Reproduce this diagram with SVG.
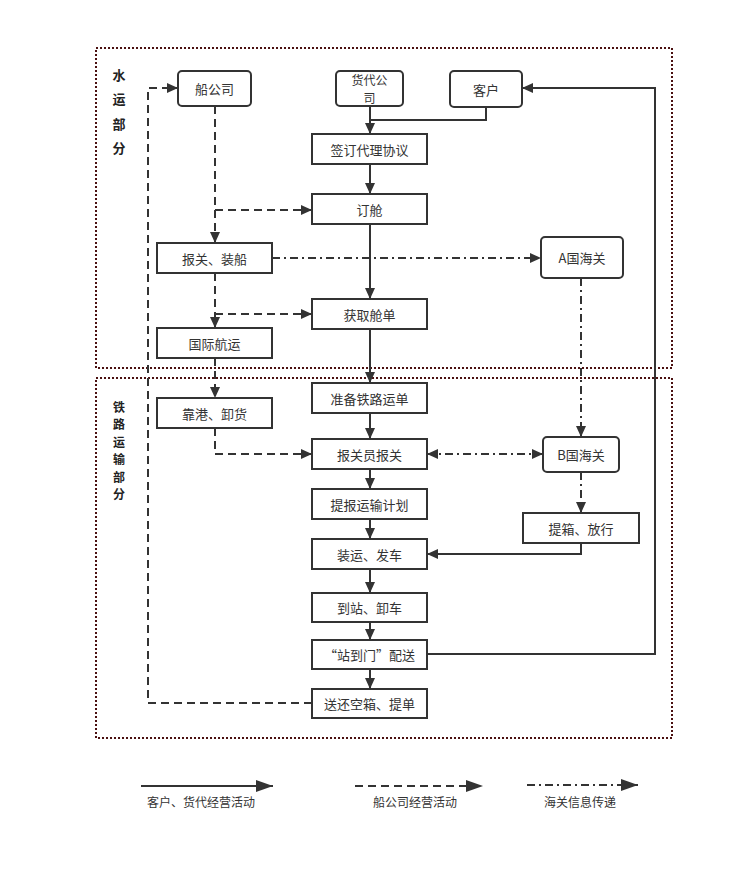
<svg xmlns="http://www.w3.org/2000/svg" width="734" height="883" viewBox="0 0 734 883">
<style>
.box{fill:#fff;stroke:#333;stroke-width:2}
.t{font-family:"Noto Sans CJK SC","Liberation Sans",sans-serif;font-size:13px;fill:#333;text-anchor:middle;dominant-baseline:central}
.t2{font-family:"Noto Sans CJK SC","Liberation Sans",sans-serif;font-size:12px;fill:#333;text-anchor:middle;dominant-baseline:central}
.lbl{font-family:"Noto Sans CJK SC","Liberation Sans",sans-serif;font-size:13px;font-weight:bold;fill:#222;text-anchor:middle;dominant-baseline:central}
.lbl2{font-family:"Noto Sans CJK SC","Liberation Sans",sans-serif;font-size:12px;font-weight:bold;fill:#222;text-anchor:middle;dominant-baseline:central}
.lg{font-family:"Noto Sans CJK SC","Liberation Sans",sans-serif;font-size:12px;fill:#333;text-anchor:middle;dominant-baseline:central}
.zone{fill:none;stroke:#4a1010;stroke-width:2;stroke-dasharray:2 2}
.s{fill:none;stroke:#333;stroke-width:2}
.d{fill:none;stroke:#333;stroke-width:2;stroke-dasharray:8 5}
.dd{fill:none;stroke:#333;stroke-width:2;stroke-dasharray:8 4 2 4}
</style>
<defs>
<marker id="a" markerUnits="userSpaceOnUse" markerWidth="12" markerHeight="12" refX="11" refY="5" orient="auto">
<path d="M0,0 L11,5 L0,10 z" fill="#333"/>
</marker>
<marker id="as" markerUnits="userSpaceOnUse" markerWidth="12" markerHeight="12" refX="0" refY="5" orient="auto">
<path d="M11,0 L0,5 L11,10 z" fill="#333"/>
</marker>
<marker id="al" markerUnits="userSpaceOnUse" markerWidth="20" markerHeight="14" refX="17" refY="6" orient="auto">
<path d="M0,0 L17,6 L0,12 z" fill="#333"/>
</marker>
</defs>

<g id="zones">
<rect class="zone" x="96" y="48" width="576" height="320"/>
<rect class="zone" x="96" y="378" width="576" height="360"/>
<text class="lbl" x="119" y="74">水</text>
<text class="lbl" x="119" y="98">运</text>
<text class="lbl" x="119" y="123">部</text>
<text class="lbl" x="119" y="147">分</text>
<text class="lbl2" x="119" y="406">铁</text>
<text class="lbl2" x="119" y="423.5">路</text>
<text class="lbl2" x="119" y="441">运</text>
<text class="lbl2" x="119" y="458.5">输</text>
<text class="lbl2" x="119" y="476">部</text>
<text class="lbl2" x="119" y="493.5">分</text>
</g>

<g id="connectors">
<!-- solid -->
<path class="s" d="M370,106 V134" marker-end="url(#a)"/>
<path class="s" d="M486,107 V120 H370"/>
<path class="s" d="M370,164 V194" marker-end="url(#a)"/>
<path class="s" d="M370,224 V299" marker-end="url(#a)"/>
<path class="s" d="M370,329 V383" marker-end="url(#a)"/>
<path class="s" d="M370,413 V439" marker-end="url(#a)"/>
<path class="s" d="M370,469 V489" marker-end="url(#a)"/>
<path class="s" d="M370,519 V539" marker-end="url(#a)"/>
<path class="s" d="M370,569 V593" marker-end="url(#a)"/>
<path class="s" d="M370,622 V640" marker-end="url(#a)"/>
<path class="s" d="M370,669 V689" marker-end="url(#a)"/>
<path class="s" d="M427,654 H655 V88 H522" marker-end="url(#a)"/>
<path class="s" d="M581,543 V554 H427" marker-end="url(#a)"/>
<!-- dashed -->
<path class="d" d="M215,106 V243" marker-end="url(#a)"/>
<path class="d" d="M215,210 H312" marker-end="url(#a)"/>
<path class="d" d="M215,273 V328" marker-end="url(#a)"/>
<path class="d" d="M215,314 H312" marker-end="url(#a)"/>
<path class="d" d="M215,358 V398" marker-end="url(#a)"/>
<path class="d" d="M215,428 V454 H312" marker-end="url(#a)"/>
<path class="d" d="M312,703 H148 V88 H178" marker-end="url(#a)"/>
<!-- dash-dot -->
<path class="dd" d="M272,258 H541" marker-end="url(#a)"/>
<path class="dd" d="M581,278 V437" marker-end="url(#a)"/>
<path class="dd" d="M427,454 H543" marker-start="url(#as)" marker-end="url(#a)"/>
<path class="dd" d="M581,472 V513" marker-end="url(#a)"/>
</g>

<g id="n-chuan"><rect class="box" x="178" y="71" width="73" height="35" rx="4"/><text class="t" x="214.5" y="88.5">船公司</text></g>
<g id="n-huodai"><rect class="box" x="336" y="71" width="67" height="35" rx="4"/><text class="t2" x="369.5" y="79.5">货代公</text><text class="t2" x="369.5" y="97">司</text></g>
<g id="n-kehu"><rect class="box" x="450" y="71" width="72" height="36" rx="4"/><text class="t" x="486" y="89">客户</text></g>
<g id="n-qianding"><rect class="box" x="312" y="134" width="115" height="30"/><text class="t" x="369.5" y="149">签订代理协议</text></g>
<g id="n-dingcang"><rect class="box" x="312" y="194" width="115" height="30"/><text class="t" x="369.5" y="209">订舱</text></g>
<g id="n-baoguan-zc"><rect class="box" x="157" y="243" width="115" height="30"/><text class="t" x="214.5" y="258">报关、装船</text></g>
<g id="n-huoqu"><rect class="box" x="312" y="299" width="115" height="30"/><text class="t" x="369.5" y="314">获取舱单</text></g>
<g id="n-guoji"><rect class="box" x="157" y="328" width="115" height="30"/><text class="t" x="214.5" y="343">国际航运</text></g>
<g id="n-kaogang"><rect class="box" x="157" y="398" width="115" height="30"/><text class="t" x="214.5" y="413">靠港、卸货</text></g>
<g id="n-zhunbei"><rect class="box" x="312" y="383" width="115" height="30"/><text class="t" x="369.5" y="398">准备铁路运单</text></g>
<g id="n-ahaiguan"><rect class="box" x="541" y="237" width="82" height="41" rx="4"/><text class="t" x="582" y="257.5">A国海关</text></g>
<g id="n-bhaiguan"><rect class="box" x="543" y="437" width="76" height="35" rx="4"/><text class="t" x="581" y="454.5">B国海关</text></g>
<g id="n-tixiang"><rect class="box" x="523" y="513" width="116" height="30"/><text class="t" x="581" y="528">提箱、放行</text></g>
<g id="n-baoguanyuan"><rect class="box" x="312" y="439" width="115" height="30"/><text class="t" x="369.5" y="454">报关员报关</text></g>
<g id="n-tibao"><rect class="box" x="312" y="489" width="115" height="30"/><text class="t" x="369.5" y="504">提报运输计划</text></g>
<g id="n-zhuangyun"><rect class="box" x="312" y="539" width="115" height="30"/><text class="t" x="369.5" y="554">装运、发车</text></g>
<g id="n-daozhan"><rect class="box" x="312" y="593" width="115" height="29"/><text class="t" x="369.5" y="607.5">到站、卸车</text></g>
<g id="n-zhandaomen"><rect class="box" x="312" y="640" width="115" height="29"/><text class="t" x="369.5" y="654.5">“站到门”配送</text></g>
<g id="n-songhuan"><rect class="box" x="312" y="689" width="115" height="29"/><text class="t" x="369.5" y="703.5">送还空箱、提单</text></g>

<g id="legend">
<path class="s" d="M141,786 H273" marker-end="url(#al)"/>
<path class="d" d="M355,786 H483" marker-end="url(#al)"/>
<path class="dd" d="M527,785 H638" marker-end="url(#al)"/>
<text class="lg" x="201" y="801">客户、货代经营活动</text>
<text class="lg" x="415" y="801">船公司经营活动</text>
<text class="lg" x="580" y="801">海关信息传递</text>
</g>
</svg>
